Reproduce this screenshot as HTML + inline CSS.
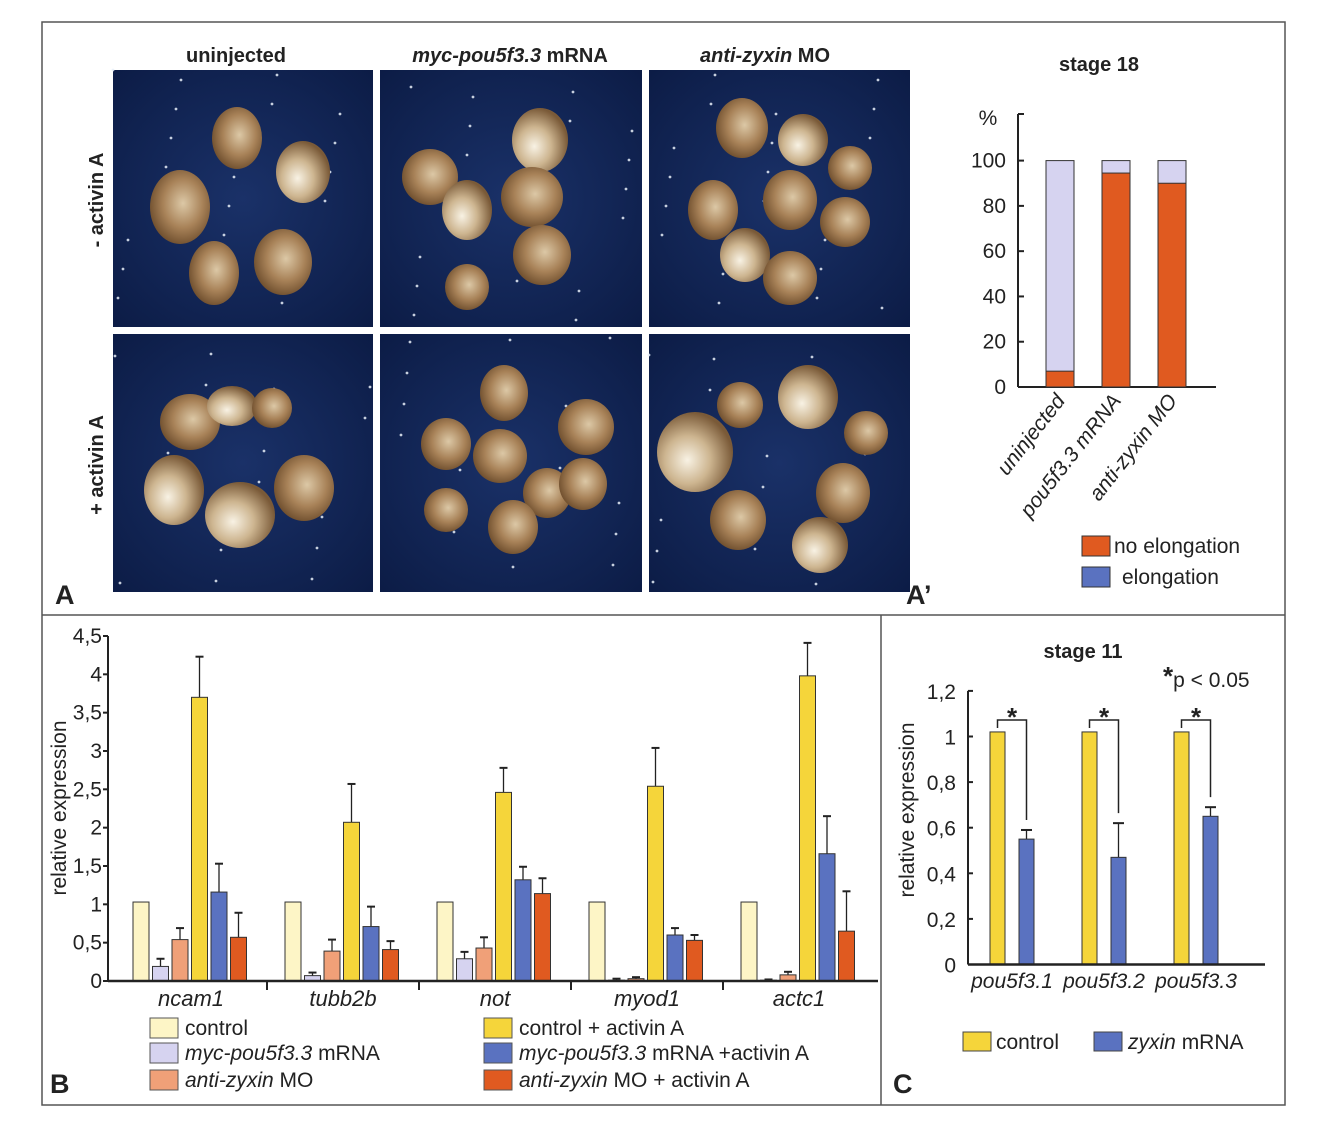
<!DOCTYPE html>
<html><head><meta charset="utf-8"><style>
html,body{margin:0;padding:0;background:#fff;}
svg{display:block;font-family:"Liberation Sans",Arial,sans-serif;}
</style></head><body>
<svg id="fig" width="1328" height="1134" viewBox="0 0 1328 1134" xmlns="http://www.w3.org/2000/svg">
<defs>
<radialGradient id="blob" cx="0.55" cy="0.45" r="0.6">
<stop offset="0" stop-color="#dcc8a6"/><stop offset="0.55" stop-color="#a88258"/><stop offset="1" stop-color="#6a4a2a"/>
</radialGradient>
<radialGradient id="blobL" cx="0.4" cy="0.6" r="0.6">
<stop offset="0" stop-color="#f8f2e4"/><stop offset="0.5" stop-color="#cdb590"/><stop offset="1" stop-color="#7a5a38"/>
</radialGradient>
<radialGradient id="navy" cx="0.5" cy="0.5" r="0.7">
<stop offset="0" stop-color="#1a3168"/><stop offset="1" stop-color="#0c1c46"/>
</radialGradient>
</defs>
<g fill="none" stroke="#555" stroke-width="1.5">
<rect x="42" y="22" width="1243" height="1083"/>
<line x1="42" y1="615" x2="1285" y2="615"/>
<line x1="881" y1="615" x2="881" y2="1105"/>
</g>
<g id="photos"></g>
<g font-weight="bold" font-size="20" fill="#222" text-anchor="middle">
<text x="236" y="62">uninjected</text>
<text x="510" y="62"><tspan font-style="italic">myc-pou5f3.3</tspan> mRNA</text>
<text x="765" y="62"><tspan font-style="italic">anti-zyxin</tspan> MO</text>
<text transform="translate(103,200) rotate(-90)">- activin A</text>
<text transform="translate(103,465) rotate(-90)">+ activin A</text>
</g>
<g font-weight="bold" font-size="27" fill="#222">
<text x="55" y="604">A</text>
<text x="906" y="604">A’</text>
<text x="50" y="1093">B</text>
<text x="893" y="1093">C</text>
</g>
<g id="chartA"></g>
<g id="chartB"></g>
<g id="chartC"></g>
</svg>
<script>
// ---------- Panel A' data ----------
const aCats = ["uninjected", "pou5f3.3 mRNA", "anti-zyxin MO"];
const aNoElong = [7, 94.5, 90];
const aTicks = [0, 20, 40, 60, 80, 100];

// ---------- Panel B data ----------
const bCats = ["ncam1", "tubb2b", "not", "myod1", "actc1"];
const bSeriesNames = ["control", "myc-pou5f3.3 mRNA", "anti-zyxin MO", "control + activin A", "myc-pou5f3.3 mRNA +activin A", "anti-zyxin MO + activin A"];
const bControl = [1.03, 1.03, 1.03, 1.03, 1.03];
const bMyc = [0.19, 0.07, 0.29, 0.01, 0.01];
const bAnti = [0.54, 0.39, 0.43, 0.03, 0.08];
const bControlAct = [3.70, 2.07, 2.46, 2.54, 3.98];
const bMycAct = [1.16, 0.71, 1.32, 0.60, 1.66];
const bAntiAct = [0.57, 0.41, 1.14, 0.53, 0.65];
const bErrMyc = [0.10, 0.04, 0.09, 0.02, 0.01];
const bErrAnti = [0.15, 0.15, 0.14, 0.02, 0.04];
const bErrControlAct = [0.53, 0.50, 0.32, 0.50, 0.43];
const bErrMycAct = [0.37, 0.26, 0.17, 0.09, 0.49];
const bErrAntiAct = [0.32, 0.11, 0.20, 0.07, 0.52];
const bTicks = ["0", "0,5", "1", "1,5", "2", "2,5", "3", "3,5", "4", "4,5"];

// ---------- Panel C data ----------
const cCats = ["pou5f3.1", "pou5f3.2", "pou5f3.3"];
const cControl = [1.02, 1.02, 1.02];
const cZyxin = [0.55, 0.47, 0.65];
const cErrZyxin = [0.04, 0.15, 0.04];
const cTicks = ["0", "0,2", "0,4", "0,6", "0,8", "1", "1,2"];

const NS = "http://www.w3.org/2000/svg";
function mk(parent, tag, attrs, text) {
  const e = document.createElementNS(NS, tag);
  for (const k in attrs) e.setAttribute(k, attrs[k]);
  if (text !== undefined) e.textContent = text;
  parent.appendChild(e);
  return e;
}

// ---------- Photos ----------
const photoBoxes = [[113,70,260,257],[380,70,262,257],[649,70,261,257],[113,334,260,258],[380,334,262,258],[649,334,261,258]];
const photoNames = ["photo-uninjected-minus","photo-myc-minus","photo-anti-minus","photo-uninjected-plus","photo-myc-plus","photo-anti-plus"];
const blobs = [
 [[237,138,25,31,0],[303,172,27,31,1],[180,207,30,37,0],[214,273,25,32,0],[283,262,29,33,0]],
 [[540,140,28,32,1],[430,177,28,28,0],[467,210,25,30,1],[532,197,31,30,0],[542,255,29,30,0],[467,287,22,23,0]],
 [[742,128,26,30,0],[803,140,25,26,1],[850,168,22,22,0],[713,210,25,30,0],[790,200,27,30,0],[845,222,25,25,0],[745,255,25,27,1],[790,278,27,27,0]],
 [[190,422,30,28,0],[232,406,25,20,1],[272,408,20,20,0],[174,490,30,35,1],[240,515,35,33,1],[304,488,30,33,0]],
 [[504,393,24,28,0],[446,444,25,26,0],[500,456,27,27,0],[586,427,28,28,0],[547,493,24,25,0],[583,484,24,26,0],[446,510,22,22,0],[513,527,25,27,0]],
 [[808,397,30,32,1],[695,452,38,40,1],[740,405,23,23,0],[866,433,22,22,0],[843,493,27,30,0],[738,520,28,30,0],[820,545,28,28,1]]
];
const pg = document.getElementById("photos");
photoBoxes.forEach((b, i) => {
  const g = mk(pg, "g", {});
  
  
  mk(g, "rect", {x:b[0], y:b[1], width:b[2], height:b[3], fill:"url(#navy)"});
  for (let k = 0; k < 20; k++) {
    mk(g, "circle", {cx: b[0] + ((k*53 + i*31) % b[2]), cy: b[1] + ((k*97 + i*17) % b[3]), r: 1.4, fill:"#e8eef8", opacity:0.85});
  }
  blobs[i].forEach(o => {
    mk(g, "ellipse", {cx:o[0], cy:o[1], rx:o[2], ry:o[3], fill: o[4] ? "url(#blobL)" : "url(#blob)"});
  });
});

// ---------- Chart A' ----------
(function(){
  const g = document.getElementById("chartA");
  const y0 = 387, k = 2.264, ax = 1018;
  const yA = v => y0 - v*k;
  const xs = [1046, 1102, 1158], bw = 28;
  mk(g, "text", {x:1099, y:71, "text-anchor":"middle", "font-size":20, "font-weight":"bold", fill:"#222"}, "stage 18");
  mk(g, "text", {x:988, y:125, "text-anchor":"middle", "font-size":21, fill:"#222"}, "%");
  mk(g, "line", {x1:ax, y1:114, x2:ax, y2:y0, stroke:"#222", "stroke-width":2});
  mk(g, "line", {x1:ax, y1:y0, x2:1216, y2:y0, stroke:"#222", "stroke-width":2});
  mk(g, "line", {x1:ax, y1:114, x2:ax+6, y2:114, stroke:"#222", "stroke-width":2});
  aTicks.forEach(t => {
    mk(g, "line", {x1:ax, y1:yA(t), x2:ax+6, y2:yA(t), stroke:"#222", "stroke-width":2});
    mk(g, "text", {x:ax-12, y:yA(t)+7, "text-anchor":"end", "font-size":21, fill:"#222"}, String(t));
  });
  aCats.forEach((c, i) => {
    const r1 = mk(g, "rect", {x:xs[i], y:yA(100), width:bw, height:100*k, fill:"#d6d3f0", stroke:"#333", "stroke-width":1});
    
    
    const r2 = mk(g, "rect", {x:xs[i], y:yA(aNoElong[i]), width:bw, height:aNoElong[i]*k, fill:"#e05a20", stroke:"#333", "stroke-width":1});
    
    
    const t = mk(g, "text", {transform:`translate(${xs[i]+bw/2+6},${y0+14}) rotate(-52)`, "text-anchor":"end", "font-size":21, "font-style":"italic", fill:"#222"}, c);
    
    
  });
  const l1 = mk(g, "rect", {x:1082, y:536, width:28, height:20, fill:"#e05a20", stroke:"#333"});
  
  
  mk(g, "text", {x:1114, y:553, "font-size":21, fill:"#222"}, "no elongation");
  const l2 = mk(g, "rect", {x:1082, y:567, width:28, height:20, fill:"#5a72c0", stroke:"#333"});
  
  
  mk(g, "text", {x:1122, y:584, "font-size":21, fill:"#222"}, "elongation");
})();

// ---------- Chart B ----------
(function(){
  const g = document.getElementById("chartB");
  const y0 = 981, k = 76.67, ax = 108;
  const yB = v => y0 - v*k;
  const colors = ["#fdf5c6", "#d6d3f0", "#f0a078", "#f5d53a", "#5a72c0", "#e05a20"];
  const series = [bControl, bMyc, bAnti, bControlAct, bMycAct, bAntiAct];
  const errs = [null, bErrMyc, bErrAnti, bErrControlAct, bErrMycAct, bErrAntiAct];
  mk(g, "line", {x1:ax, y1:yB(4.5), x2:ax, y2:y0, stroke:"#222", "stroke-width":2});
  bTicks.forEach((t, i) => {
    const y = yB(i*0.5);
    mk(g, "line", {x1:ax-5, y1:y, x2:ax, y2:y, stroke:"#222", "stroke-width":2});
    mk(g, "text", {x:ax-6, y:y+7, "text-anchor":"end", "font-size":21, fill:"#222"}, t);
  });
  mk(g, "text", {transform:"translate(66,808) rotate(-90)", "text-anchor":"middle", "font-size":21, fill:"#222"}, "relative expression");
  bCats.forEach((c, gi) => {
    const gx = 133 + gi*152;
    series.forEach((s, si) => {
      const x = gx + si*19.5, v = s[gi];
      if (errs[si]) {
        const top = yB(v + errs[si][gi]);
        mk(g, "line", {x1:x+8, y1:top, x2:x+8, y2:yB(v), stroke:"#222", "stroke-width":1.3});
        mk(g, "line", {x1:x+4, y1:top, x2:x+12, y2:top, stroke:"#222", "stroke-width":2});
      }
      const r = mk(g, "rect", {x:x, y:yB(v), width:16, height:v*k, fill:colors[si], stroke:"#333", "stroke-width":1});
      
      
    });
    const lbl = mk(g, "text", {x:gx+58, y:1006, "text-anchor":"middle", "font-size":22, "font-style":"italic", fill:"#222"}, c);
    
    
    if (gi < 4) mk(g, "line", {x1:gx+134, y1:y0, x2:gx+134, y2:y0+9, stroke:"#222", "stroke-width":2});
  });
  mk(g, "line", {x1:ax, y1:y0, x2:878, y2:y0, stroke:"#222", "stroke-width":2.5});
  const lx = [150, 484], ly = [1018, 1043, 1070];
  bSeriesNames.forEach((n, i) => {
    const col = Math.floor(i/3), row = i%3;
    const sw = mk(g, "rect", {x:lx[col], y:ly[row], width:28, height:20, fill:colors[i], stroke:"#555"});
    
    
    const t = mk(g, "text", {x:lx[col]+35, y:ly[row]+17, "font-size":21, fill:"#222"});
    if (n.startsWith("myc-pou5f3.3")) { mk(t, "tspan", {"font-style":"italic"}, "myc-pou5f3.3"); mk(t, "tspan", {}, n.slice(12)); }
    else if (n.startsWith("anti-zyxin")) { mk(t, "tspan", {"font-style":"italic"}, "anti-zyxin"); mk(t, "tspan", {}, n.slice(10)); }
    else t.textContent = n;
  });
})();

// ---------- Chart C ----------
(function(){
  const g = document.getElementById("chartC");
  const y0 = 964.5, k = 228, ax = 968;
  const yC = v => y0 - v*k;
  mk(g, "text", {x:1083, y:658, "text-anchor":"middle", "font-size":20, "font-weight":"bold", fill:"#222"}, "stage 11");
  const p = mk(g, "text", {x:1163, y:687, "font-size":21, fill:"#222"});
  mk(p, "tspan", {"font-size":26, "font-weight":"bold", dy:"-2"}, "*");
  mk(p, "tspan", {dy:"2"}, "p < 0.05");
  mk(g, "line", {x1:ax, y1:yC(1.2), x2:ax, y2:y0, stroke:"#222", "stroke-width":2});
  cTicks.forEach((t, i) => {
    const y = yC(i*0.2);
    mk(g, "line", {x1:ax, y1:y, x2:ax+5, y2:y, stroke:"#222", "stroke-width":2});
    mk(g, "text", {x:ax-12, y:y+8, "text-anchor":"end", "font-size":21, fill:"#222"}, t);
  });
  mk(g, "text", {transform:"translate(914,810) rotate(-90)", "text-anchor":"middle", "font-size":21, fill:"#222"}, "relative expression");
  cCats.forEach((c, i) => {
    const xc = 990 + i*92, xz = xc + 29, bw = 15;
    const r1 = mk(g, "rect", {x:xc, y:yC(cControl[i]), width:bw, height:cControl[i]*k, fill:"#f5d53a", stroke:"#333", "stroke-width":1});
    
    
    const top = yC(cZyxin[i] + cErrZyxin[i]);
    mk(g, "line", {x1:xz+7.5, y1:top, x2:xz+7.5, y2:yC(cZyxin[i]), stroke:"#222", "stroke-width":1.3});
    mk(g, "line", {x1:xz+2, y1:top, x2:xz+13, y2:top, stroke:"#222", "stroke-width":2});
    const r2 = mk(g, "rect", {x:xz, y:yC(cZyxin[i]), width:bw, height:cZyxin[i]*k, fill:"#5a72c0", stroke:"#333", "stroke-width":1});
    
    
    const by = 720;
    mk(g, "polyline", {points:`${xc+bw/2},${yC(cControl[i])-4} ${xc+bw/2},${by} ${xz+bw/2},${by} ${xz+bw/2},${top-10}`, fill:"none", stroke:"#222", "stroke-width":1.5});
    mk(g, "text", {x:(xc+xz+bw)/2, y:by+6, "text-anchor":"middle", "font-size":26, "font-weight":"bold", fill:"#222"}, "*");
    const lbl = mk(g, "text", {x:(xc+xz+bw)/2, y:988, "text-anchor":"middle", "font-size":21, "font-style":"italic", fill:"#222"}, c);
    
    
  });
  mk(g, "line", {x1:ax, y1:y0, x2:1265, y2:y0, stroke:"#222", "stroke-width":2.5});
  const s1 = mk(g, "rect", {x:963, y:1032, width:28, height:19, fill:"#f5d53a", stroke:"#444"});
  
  
  mk(g, "text", {x:996, y:1049, "font-size":21, fill:"#222"}, "control");
  const s2 = mk(g, "rect", {x:1094, y:1032, width:28, height:19, fill:"#5a72c0", stroke:"#444"});
  
  
  const t2 = mk(g, "text", {x:1128, y:1049, "font-size":21, fill:"#222"});
  mk(t2, "tspan", {"font-style":"italic"}, "zyxin");
  mk(t2, "tspan", {}, " mRNA");
})();
</script>
</body></html>
